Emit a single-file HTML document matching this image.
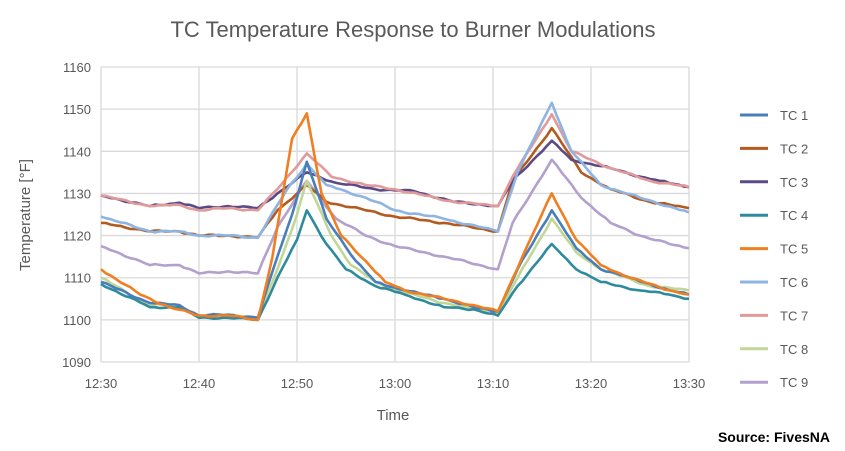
<!DOCTYPE html>
<html><head><meta charset="utf-8"><style>
body{margin:0;background:#fff;}
svg{display:block;font-family:"Liberation Sans",sans-serif;}
</style></head><body>
<svg id="s" width="845" height="451" xmlns="http://www.w3.org/2000/svg">
<rect width="845" height="451" fill="#fff"/>
<text x="413" y="37" text-anchor="middle" font-size="22" fill="#595959">TC Temperature Response to Burner Modulations</text>
<g id="grid" stroke="#d9d9d9" stroke-width="1.3" fill="none"></g>
<g id="lab" font-size="13" fill="#595959"></g>
<text x="393" y="420" text-anchor="middle" font-size="15" fill="#595959">Time</text>
<text transform="translate(30,215) rotate(-90)" text-anchor="middle" font-size="15" fill="#595959">Temperature [°F]</text>
<g id="ser" fill="none" stroke-width="2.6" stroke-linejoin="round"></g>
<g id="leg" font-size="13" fill="#595959"></g>
<text x="830" y="442" text-anchor="end" font-size="14" font-weight="bold" fill="#000">Source: FivesNA</text>
</svg>
<script>
var NS="http://www.w3.org/2000/svg";
function X(t){return 101+t*9.8;}function Y(v){return 362-(v-1090)*4.214;}
function el(p,n,a,txt){var e=document.createElementNS(NS,n);for(var k in a)e.setAttribute(k,a[k]);if(txt!=null)e.textContent=txt;document.getElementById(p).appendChild(e);return e;}
for(var v=1090;v<=1160;v+=10){el("grid","line",{x1:101,x2:689,y1:Y(v),y2:Y(v)});el("lab","text",{x:91,y:Y(v)+5,"text-anchor":"end"},v);}
var tl=["12:30","12:40","12:50","13:00","13:10","13:20","13:30"];
for(var i=0;i<7;i++){el("grid","line",{x1:X(i*10),x2:X(i*10),y1:Y(1160),y2:Y(1090)});el("lab","text",{x:X(i*10),y:388,"text-anchor":"middle"},tl[i]);}
var base=[[0,0],[5,-2.5],[8,-2],[10,-3],[13,-2.7],[16,-3.3]];
var S=[
["TC 1","#4a7ebb",[[0,1109],[5,1104],[8,1103.5],[10,1101],[13,1101.2],[16,1100.5],[18,1115],[19.5,1125],[21,1137.5],[23,1124],[26,1114],[28,1109],[31,1107],[35,1105],[38,1103],[40.5,1102],[42.5,1112],[46,1126],[48.5,1117],[51,1112],[54,1110],[58,1107],[60,1106]]],
["TC 2","#b35a1f",[[0,1123],[5,1121],[8,1121],[10,1120],[13,1120],[16,1119.5],[18,1126],[21,1132],[23,1128],[27,1126],[30,1124.5],[35,1123],[40.5,1121],[42,1133],[46,1145.5],[49,1135],[52,1131],[56,1128],[60,1126.5]]],
["TC 3","#5c4a86",[[0,1129.5],[5,1127],[8,1127.8],[10,1126.5],[13,1127],[16,1126.5],[18,1130],[21,1135],[24,1132.5],[28,1131],[32,1130.5],[36,1128],[40.5,1127],[42,1133],[46,1142.5],[48,1138],[52,1136],[55,1134],[57,1133],[60,1131.5]]],
["TC 4","#2e8b9e",[[0,1108.5],[5,1103],[8,1103],[10,1100.5],[13,1100.5],[16,1100],[18,1110],[20,1119],[21,1126],[23,1118],[25,1112],[28,1108],[31,1106],[35,1103],[38,1102.5],[40.5,1101],[42.5,1108],[46,1118],[48.5,1112],[51,1109],[55,1107],[58,1106],[60,1105]]],
["TC 5","#f07f22",[[0,1112],[4,1106],[7,1103],[10,1101],[13,1101],[16,1100],[17.5,1115],[19.5,1143],[21,1149],[22.5,1130],[24.5,1120],[27,1114],[29,1109],[31,1107],[35,1105],[38,1103.5],[40.5,1102],[43,1115],[46,1130],[48.5,1119],[51,1113],[54,1110],[58,1107],[60,1106]]],
["TC 6","#8db4e2",[[0,1124.5],[5,1121],[8,1121],[10,1120],[13,1120],[16,1119.5],[19,1131],[21,1137],[23,1132],[27,1129],[30,1126],[35,1124],[40.5,1121],[42.5,1135],[46,1151.5],[48,1140],[51,1132],[55,1129],[60,1125.5]]],
["TC 7","#e09a9a",[[0,1129.5],[5,1127],[8,1127.3],[10,1126],[13,1126.5],[16,1126],[18,1131],[21,1139.5],[23.5,1134],[27,1132],[30,1131],[36,1128],[40.5,1127],[42,1134],[46,1148.8],[48,1140],[52,1136],[56,1133],[60,1131.5]]],
["TC 8","#c1d797",[[0,1110],[5,1103.5],[8,1103.5],[10,1101],[13,1101.3],[16,1100.5],[18,1112],[20,1125],[21,1133],[23.5,1120],[25.5,1113],[28,1109],[31,1106.5],[35,1104],[40.5,1101.5],[42.5,1110],[46,1124],[48.5,1116],[51,1112],[56,1108],[60,1107]]],
["TC 9","#b3a0cc",[[0,1117.5],[5,1113],[8,1113],[10,1111],[13,1111.5],[16,1111],[18,1122],[21,1133],[24,1124],[27,1120],[30,1117.5],[35,1115],[40.5,1112],[42,1123],[46,1138],[49,1129],[52,1123],[55,1120],[58,1118],[60,1117]]]
];
function interp(k,t){for(var i=0;i<k.length-1;i++){if(t<=k[i+1][0]){var a=k[i],b=k[i+1];return a[1]+(b[1]-a[1])*(t-a[0])/(b[0]-a[0]);}}return k[k.length-1][1];}
var order=[8,1,2,6,5,7,3,0,4];
order.forEach(function(j,ii){var s=S[j],pts=[];for(var t=0;t<=60.001;t+=0.5){var kp=s[2].some(function(p){return Math.abs(p[0]-t)<0.3;});var n=kp?0:0.25*Math.sin(t*2.3+j)*Math.cos(t*1.1);pts.push(X(t).toFixed(1)+","+Y(interp(s[2],t)+n).toFixed(1));}
el("ser","polyline",{points:pts.join(" "),stroke:s[1]});});
S.forEach(function(s,i){var y=115+i*33.4;el("leg","line",{x1:740,x2:768,y1:y,y2:y,stroke:s[1],"stroke-width":3});el("leg","text",{x:780,y:y+5},s[0]);});
</script>
</body></html>
